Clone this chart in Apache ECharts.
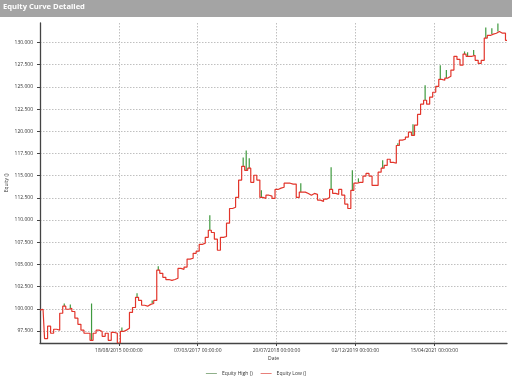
<!DOCTYPE html>
<html>
<head>
<meta charset="utf-8">
<script src="https://cdn.jsdelivr.net/npm/echarts@6/dist/echarts.min.js"></script>
<style>
  html, body { margin: 0; padding: 0; background: #fff; }
  #main { width: 512px; height: 376px; }
</style>
</head>
<body>
<div id="main"></div>
<script>
// date labels sit on bar indices
var tickIdx = [26, 52, 78, 104, 130];
var tickLabels = ['18/08/2015 00:00:00', '07/03/2017 00:00:00', '20/07/2018 00:00:00', '02/12/2019 00:00:00', '15/04/2021 00:00:00'];
var yTicks = [97500, 100000, 102500, 105000, 107500, 110000, 112500, 115000, 117500, 120000, 122500, 125000, 127500, 130000];

var equityLow = [
  99850, 99950, 96650, 98050, 97250, 97700, 97600, 99500, 100300, 99950,
  100050, 99700, 98950, 98250, 97600, 97250, 97250, 96450, 97250, 97600,
  97450, 96900, 97250, 96450, 97350, 97250, 96150, 97450, 97600, 97800,
  99600, 100150, 101300, 100950, 100400, 100300, 100500, 100600, 100950, 104350,
  104000, 103550, 103300, 103200, 103300, 103450, 104550, 104450, 104700, 105600,
  105700, 106250, 106500, 107250, 107400, 108050, 108850, 108600, 107850, 106600,
  108050, 108150, 109650, 111300, 111450, 112550, 114500, 116050, 115600, 115850,
  114250, 115050, 114500, 112550, 112450, 112800, 112700, 112450, 113450, 113600,
  113700, 114150, 114150, 114050, 114050, 112550, 113150, 113150, 113000, 112800,
  113000, 112900, 112250, 112100, 112350, 112550, 113450, 113000, 112900, 113450,
  112800, 111800, 111300, 113350, 114150, 114250, 114250, 114950, 115250, 114950,
  113900, 113900, 115400, 115850, 116150, 116850, 116500, 116400, 118400, 119000,
  119100, 119350, 119900, 119550, 120700, 121900, 123050, 123500, 123050, 123850,
  124400, 125050, 125850, 125750, 126000, 126200, 126900, 128450, 128100, 127450,
  128700, 128450, 128450, 128550, 128000, 127650, 128000, 130500, 130800, 130950,
  131050, 131250, 131050, 131050, 130250
];

var equityHigh = [
  99850, 99950, 96650, 98050, 97250, 97700, 97600, 99500, 100600, 99950,
  100500, 99700, 98950, 98250, 97600, 97250, 97250, 100600, 97250, 97600,
  97450, 96900, 97250, 96450, 97350, 97250, 96150, 97900, 97600, 97800,
  99600, 100150, 101750, 100950, 100400, 100300, 100500, 100950, 100950, 104800,
  104000, 103550, 103300, 103200, 103300, 103450, 104550, 104450, 104700, 105600,
  105700, 106250, 106500, 107250, 107400, 108050, 110550, 108600, 107850, 106600,
  108050, 108150, 109650, 111300, 111450, 112550, 114500, 117050, 117850, 116950,
  114250, 115050, 114500, 113350, 112450, 112800, 112700, 112450, 113450, 113600,
  113700, 114150, 114150, 114050, 114050, 112550, 114150, 113150, 113000, 112800,
  113000, 112900, 112250, 112100, 112350, 112550, 115950, 113000, 112900, 113450,
  112800, 111800, 111300, 115600, 114150, 114700, 114250, 114950, 115250, 114950,
  113900, 113900, 115400, 116750, 116150, 116850, 116500, 116400, 118650, 119000,
  119100, 119350, 119900, 120800, 120700, 121900, 123050, 125200, 123050, 123850,
  124400, 125050, 127450, 125750, 126900, 126200, 126900, 128450, 128100, 127450,
  129000, 128900, 128450, 129150, 128000, 127650, 128000, 131700, 130800, 131600,
  131050, 132150, 131050, 131050, 130250
];

var FONT = 'Open Sans';
var GREEN = '#3f9a3f', RED = '#e2352b';
var chart = echarts.init(document.getElementById('main'));

function toPts(arr) {
  var out = [];
  for (var i = 0; i < arr.length; i++) out.push([i, arr[i]]);
  return out;
}
// high spikes: only bars where high is above low
var spikes = [];
for (var i = 0; i < equityHigh.length; i++) {
  if (equityHigh[i] > equityLow[i]) spikes.push([i, equityLow[i], equityHigh[i]]);
}

var option = {
  animation: false,
  backgroundColor: '#fff',
  textStyle: { fontFamily: FONT },
  graphic: [{
    type: 'rect',
    shape: { x: 0, y: 0, width: 512, height: 17 },
    style: { fill: '#a4a4a4' },
    z: -1
  }],
  title: {
    text: 'Equity Curve Detailed',
    left: 3, top: 3, padding: 0,
    textStyle: { color: '#fff', fontSize: 7.6, fontWeight: 'bold', fontFamily: FONT }
  },
  grid: { left: 40, right: 5, top: 23, bottom: 33, containLabel: false, outerBoundsMode: 'none' },
  legend: {
    top: 366,
    left: 'center',
    itemWidth: 11,
    itemHeight: 1,
    itemGap: 8,
    textStyle: { fontSize: 5, color: '#333', fontFamily: FONT },
    data: [
      { name: 'Equity High ()', icon: 'rect', itemStyle: { color: '#8fb08a' } },
      { name: 'Equity Low ()', icon: 'rect', itemStyle: { color: '#e8807a' } }
    ]
  },
  xAxis: {
    type: 'value',
    min: 0,
    max: equityLow.length - 1,
    name: 'Date',
    nameLocation: 'middle',
    nameGap: 13,
    nameMoveOverlap: false,
    nameTextStyle: { fontSize: 5, color: '#333' },
    axisLine: { lineStyle: { color: '#444', width: 1.3 } },
    axisTick: { customValues: tickIdx, length: 3, lineStyle: { color: '#444' } },
    axisLabel: {
      customValues: tickIdx,
      fontSize: 5, color: '#333', margin: 5,
      formatter: function (v) {
        var k = tickIdx.indexOf(v);
        return k >= 0 ? tickLabels[k] : '';
      }
    },
    splitLine: { show: true, lineStyle: { color: '#b0b0b0', type: [1.5, 1.5], width: 0.8 } }
  },
  yAxis: {
    type: 'value',
    min: 96150,
    max: 132200,
    name: 'Equity ()',
    nameLocation: 'middle',
    nameGap: 31,
    nameMoveOverlap: false,
    nameTextStyle: { fontSize: 5, color: '#333' },
    axisLine: { show: true, lineStyle: { color: '#444', width: 1.3 } },
    axisTick: { show: true, customValues: yTicks, length: 3, lineStyle: { color: '#444' } },
    axisLabel: {
      customValues: yTicks,
      fontSize: 5, color: '#333', margin: 7,
      formatter: function (v) { return (v / 1000).toFixed(3); }
    },
    splitLine: { show: true, lineStyle: { color: '#b0b0b0', type: [1.5, 1.5], width: 0.8 } }
  },
  series: [{
    name: 'Equity High ()',
    type: 'custom',
    data: spikes,
    encode: { x: 0, y: [1, 2] },
    itemStyle: { color: GREEN },
    renderItem: function (params, api) {
      var a = api.coord([api.value(0), api.value(1)]);
      var b = api.coord([api.value(0), api.value(2)]);
      return {
        type: 'line',
        shape: { x1: a[0], y1: a[1], x2: b[0], y2: b[1] },
        style: { stroke: GREEN, lineWidth: 1.2 }
      };
    },
    z: 2
  }, {
    name: 'Equity Low ()',
    type: 'line',
    step: 'middle',
    symbol: 'none',
    data: toPts(equityLow),
    itemStyle: { color: RED },
    lineStyle: { color: RED, width: 1.2 },
    z: 3
  }]
};
chart.setOption(option);
</script>
</body>
</html>
